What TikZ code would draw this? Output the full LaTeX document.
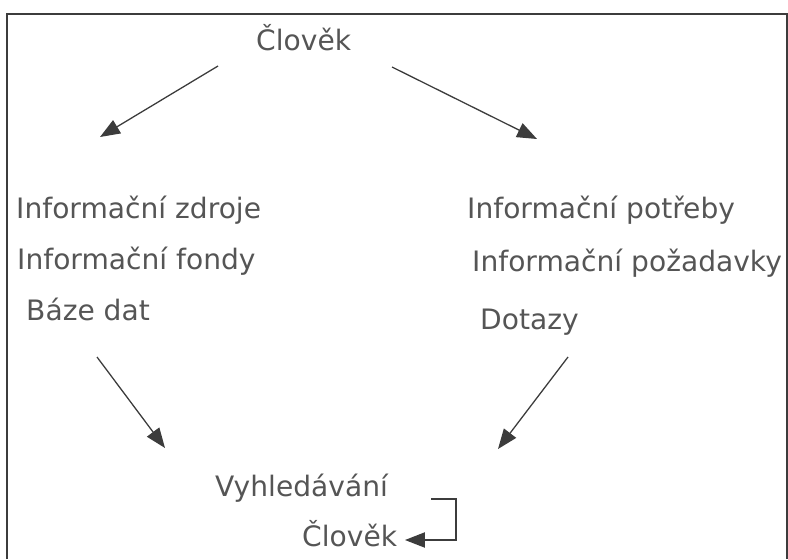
\documentclass[tikz,border=0pt]{standalone}
\usepackage{fontspec}
\setmainfont{DejaVu Sans}
\usetikzlibrary{arrows.meta, calc}
\definecolor{ink}{RGB}{85,85,85}
\definecolor{wire}{RGB}{60,60,60}

\begin{document}
\begin{tikzpicture}[x=0.03cm, y=-0.03cm,
    every node/.style={font=\fontsize{24}{28}\selectfont, text=ink, inner sep=0pt, anchor=base west},
    arr/.style={draw=wire, line width=1.1pt, -{Triangle[length=17pt, width=13pt]}}]
    \useasboundingbox (0,0) rectangle (788,559);
    % Frame (open at the bottom)
    \draw[wire, line width=1.4pt] (7,559) -- (7,14) -- (787,14) -- (787,559);

    % Top
    \node (top) at (256,50) {Člověk};

    % Left column
    \node (zdroje) at (16,218) {Informační zdroje};
    \node (fondy) at (17,269) {Informační fondy};
    \node (baze) at (26,320) {Báze dat};

    % Right column
    \node (potreby) at (467,218) {Informační potřeby};
    \node (pozad) at (472,271) {Informační požadavky};
    \node (dotazy) at (480,329) {Dotazy};

    % Bottom
    \node (vyhl) at (215,496) {Vyhledávání};
    \node (bottom) at (302,546) {Člověk};

    % Arrows
    \draw[arr] ($(top.base west)+(-38,16)$) -- ($(zdroje.base west)+(84,-81)$);
    \draw[arr] ($(top.base west)+(136,17)$) -- ($(potreby.base west)+(70,-79)$);
    \draw[arr] ($(baze.base west)+(71,37)$) -- ($(vyhl.base west)+(-50,-48)$);
    \draw[arr] ($(dotazy.base west)+(88,28)$) -- ($(vyhl.base west)+(283,-47)$);
    \draw[arr] ($(vyhl.base west)+(216,3)$) -- ++(25,0) |- ($(bottom.base west)+(103,-6)$);
\end{tikzpicture}
\end{document}
